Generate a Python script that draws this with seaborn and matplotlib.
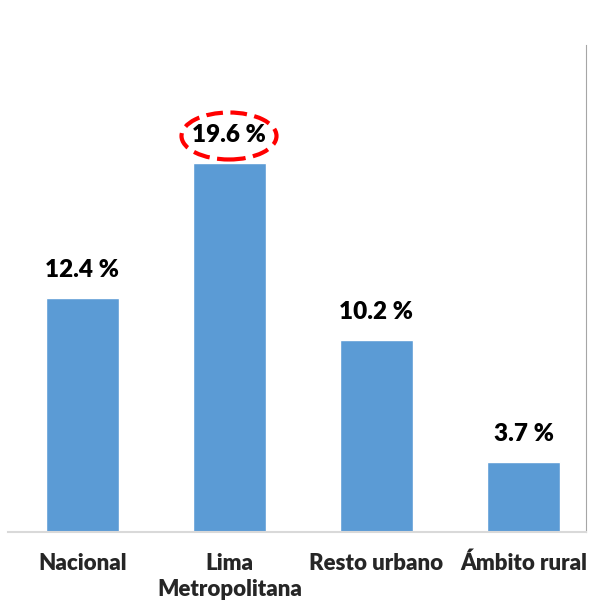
import matplotlib
matplotlib.use("Agg")
import matplotlib.pyplot as plt
from matplotlib.patches import Ellipse
import seaborn as sns
import pandas as pd

categories = ["Nacional", "Lima\nMetropolitana", "Resto urbano", "Ámbito rural"]
values = [12.4, 19.6, 10.2, 3.7]
value_labels = ["12.4 %", "19.6 %", "10.2 %", "3.7 %"]

sns.set_theme(style="white")
plt.rcParams["font.family"] = ["Lato", "DejaVu Sans"]

df = pd.DataFrame({"region": categories, "pct": values})

fig = plt.figure(figsize=(5.9, 6.05), dpi=100)
ax = fig.add_axes([8 / 590, 1 - 532 / 605, (586 - 8) / 590, (532 - 20) / 605])

sns.barplot(data=df, x="region", y="pct", color="#5B9BD5", width=0.5,
            saturation=1, ax=ax)

ax.set_xlim(-0.506, 3.425)
ax.set_ylim(0, 512 / 18.85)
ax.set_xlabel("")
ax.set_ylabel("")
ax.set_yticks([])
ax.tick_params(axis="x", length=0, pad=15)
for lbl in ax.get_xticklabels():
    lbl.set_fontweight("heavy")
    lbl.set_fontsize(16)
    lbl.set_linespacing(1.3)
    lbl.set_verticalalignment("top")

for s in ["top", "left"]:
    ax.spines[s].set_visible(False)
ax.spines["bottom"].set_color("#D9D9D9")
ax.spines["bottom"].set_linewidth(1.5)
ax.spines["right"].set_color("#A6A6A6")
ax.spines["right"].set_linestyle((0, (1, 1)))
ax.spines["right"].set_linewidth(0.8)
ax.spines["right"].set_bounds(0, (532 - 45) / 18.85)

for i, (v, t) in enumerate(zip(values, value_labels)):
    ax.annotate(t, (i, v), xytext=(0, 28), textcoords="offset pixels",
                ha="center", va="center", fontsize=17.5, fontweight="heavy",
                color="black")

# highlight the Lima Metropolitana value
ax.add_patch(Ellipse((229, 605 - 136), 95, 47, transform=None,
                     fill=False, edgecolor="#FF0000", linewidth=3,
                     linestyle=(0, (4, 1.8))))

fig.savefig("out.png", dpi=100)
